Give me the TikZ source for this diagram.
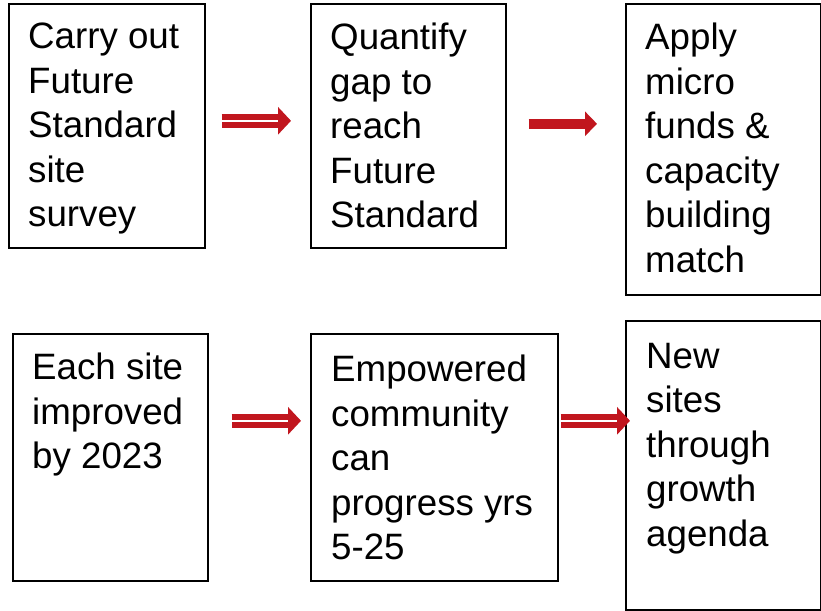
\documentclass[tikz,border=0pt]{standalone}
\usepackage{fontspec}
\setmainfont{Liberation Sans}
\usetikzlibrary{arrows.meta,positioning}
\definecolor{arrowred}{HTML}{C1161E}
\tikzset{stage/.style={draw=black,line width=1.6pt,inner sep=0pt,anchor=north west},
steptext/.style={anchor=north west,inner sep=0pt,align=left,font=\fontsize{36.7}{44.5}\selectfont},
flow/.style={arrowred,line width=6pt,double=white,double distance=2.6pt,-{Triangle[width=27pt,length=13pt]}},
push/.style={arrowred,line width=10pt,-{Triangle[width=24pt,length=12pt]}}}

\begin{document}
\begin{tikzpicture}[x=1pt,y=-1pt]
\useasboundingbox (0,0) rectangle (821,610);
% top row
\node[stage,minimum width=196pt,minimum height=244pt] (b1) at (8,3) {};
\node[stage,minimum width=195pt,minimum height=244pt] (b2) at (310,3) {};
\node[stage,minimum width=195pt,minimum height=291pt] (b3) at (625,3) {};
% bottom row
\node[stage,minimum width=195pt,minimum height=247pt] (b4) at (12,333) {};
\node[stage,minimum width=247pt,minimum height=247pt] (b5) at (310,333) {};
\node[stage,minimum width=195pt,minimum height=289pt] (b6) at (625,320) {};
\node[steptext] (t1) at ([xshift=20pt,yshift=-20pt]b1.north west) {Carry out\\Future\\Standard\\site\\survey};
\node[steptext] (t2) at ([xshift=20pt,yshift=-20pt]b2.north west) {Quantify\\gap to\\reach\\Future\\Standard};
\node[steptext] (t3) at ([xshift=20pt,yshift=-20pt]b3.north west) {Apply\\micro\\funds \&\\capacity\\building\\match};
\node[steptext] (t4) at ([xshift=20pt,yshift=-20pt]b4.north west) {Each site\\improved\\by 2023};
\node[steptext] (t5) at ([xshift=21pt,yshift=-22pt]b5.north west) {Empowered\\community\\can\\progress yrs\\5-25};
\node[steptext] (t6) at ([xshift=21pt,yshift=-23pt]b6.north west) {New\\sites\\through\\growth\\agenda};
% arrows between the stages
\coordinate (m1) at ([yshift=5pt]b1.east);
\coordinate (m2) at ([yshift=2pt]b2.east);
\coordinate (m4) at ([yshift=36.5pt]b4.east);
\draw[flow] ([xshift=16pt]m1) -- ([xshift=-19pt]b2.west |- m1);
\draw[push] ([xshift=22pt]m2) -- ([xshift=-28pt]b3.west |- m2);
\draw[flow] ([xshift=23pt]m4) -- ([xshift=-9pt]b5.west |- m4);
\draw[flow] ([xshift=2pt]b5.east |- m4) -- ([xshift=5pt]b6.west |- m4);
\end{tikzpicture}
\end{document}
